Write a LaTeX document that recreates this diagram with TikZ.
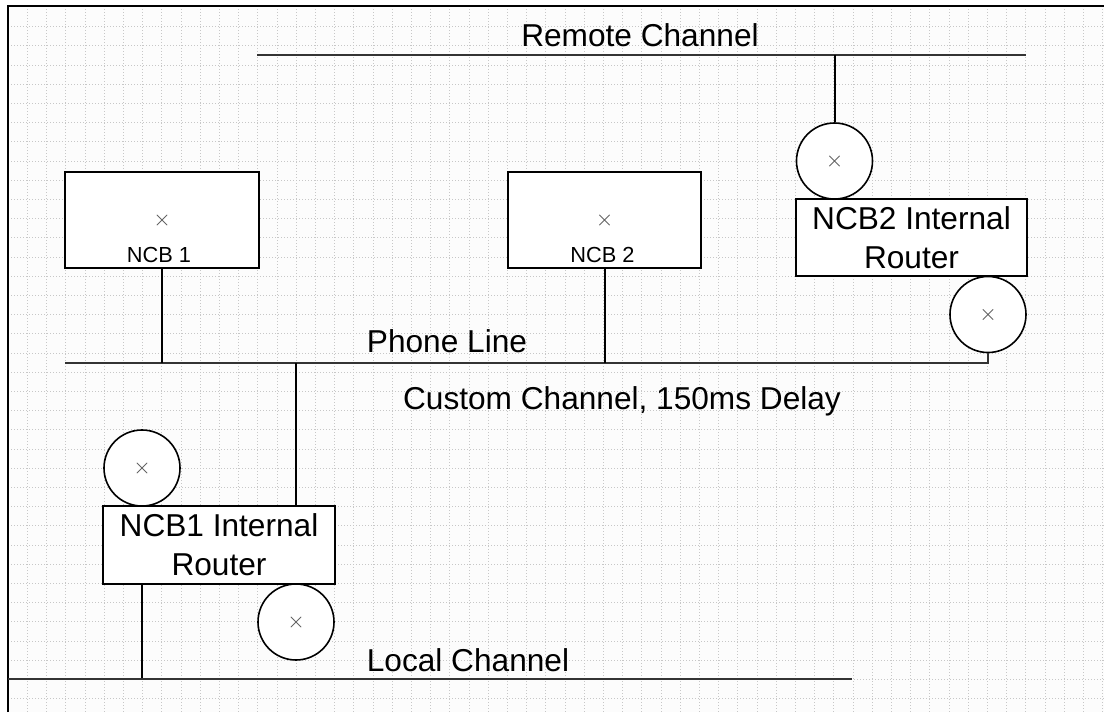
\documentclass[tikz,border=0pt]{standalone}
\usepackage{fontspec}
\setmainfont{Liberation Sans}
\usetikzlibrary{positioning,shapes.misc}
\tikzset{
  racs/.style={black!22,line width=0.25mm,dash pattern=on 0.25mm off 0.5mm},
  keret/.style={line width=0.7mm},
  csat/.style={line width=0.55mm,black!80},
  drot/.style={line width=0.5mm},
  doboz/.style={draw,line width=0.5mm,fill=white,inner sep=0pt,align=center},
  kor/.style={circle,draw,line width=0.4mm,fill=white,minimum size=19mm,inner sep=0pt},
  jel/.style={cross out,draw=black!60,line width=0.2mm,minimum size=2.4mm,inner sep=0pt},
  nagy/.style={font=\fontsize{22.5}{27.5}\selectfont},
  kis/.style={font=\fontsize{15.5}{18}\selectfont},
}
\begin{document}
\begin{tikzpicture}[x=0.25mm,y=-0.25mm]
  \useasboundingbox (0,0) rectangle (1104,712);
  \fill[black!1] (8,6) rectangle (1104,712);
  \foreach \i in {1,...,57} \draw[racs] ({8.2+19.2*\i},6) -- ({8.2+19.2*\i},712);
  \foreach \j in {1,...,36} \draw[racs] (8,{7.5+19.2*\j}) -- (1104,{7.5+19.2*\j});
  \draw[keret] (8,712) -- (8,6) -- (1104,6);

  \coordinate (rcL) at (257,55);
  \coordinate (rcR) at (1026,55);
  \coordinate (phL) at (65,363);
  \coordinate (lcL) at (8,679);
  \coordinate (lcR) at (852,679);

  \node[doboz,minimum width=48.5mm,minimum height=24mm] (ncb1) at (162,220) {};
  \node[doboz,minimum width=48.1mm,minimum height=24mm] (ncb2) at (604.5,220) {};
  \node[jel] (ncb1x) at (ncb1.center) {};
  \node[jel] (ncb2x) at (ncb2.center) {};
  \node[kis,anchor=base] (ncb1n) at (159,262) {NCB 1};
  \node[kis,anchor=base] (ncb2n) at (602.5,262) {NCB 2};

  \node[kor] (c1) at (834.5,161) {};
  \node[kor] (c2) at (988,314.5) {};
  \node[kor] (c3) at (142,468) {};
  \node[kor] (c4) at (296,622) {};
  \foreach \c in {c1,c2,c3,c4} \node[jel] (\c x) at (\c.center) {};

  \node[doboz,nagy,minimum width=57.75mm,minimum height=19.25mm] (r2) at (911.5,237.5) {NCB2 Internal\\Router};
  \node[doboz,nagy,minimum width=58mm,minimum height=19.5mm] (r1) at (219,545) {NCB1 Internal\\Router};

  \draw[csat] (rcL) -- (rcR);
  \draw[drot] (c1.north) -- (c1.north |- rcL);
  \draw[csat] (phL) -| (c2.south);
  \draw[drot] (ncb1.south) -- (ncb1.south |- phL);
  \draw[drot] (ncb2.south) -- (ncb2.south |- phL);
  \draw[drot] (c4 |- phL) -- (c4 |- r1.north);
  \draw[drot] (c3 |- r1.south) -- (c3 |- lcL);
  \draw[csat] (lcL) -- (lcR);

  \node[nagy,anchor=base] (rcN) at (640,46) {Remote Channel};
  \node[nagy,anchor=base] (phN) at (447,352) {Phone Line};
  \node[nagy,anchor=base] (ccN) at (622,409) {Custom Channel, 150ms Delay};
  \node[nagy,anchor=base] (lcN) at (468,671) {Local Channel};
\end{tikzpicture}
\end{document}
